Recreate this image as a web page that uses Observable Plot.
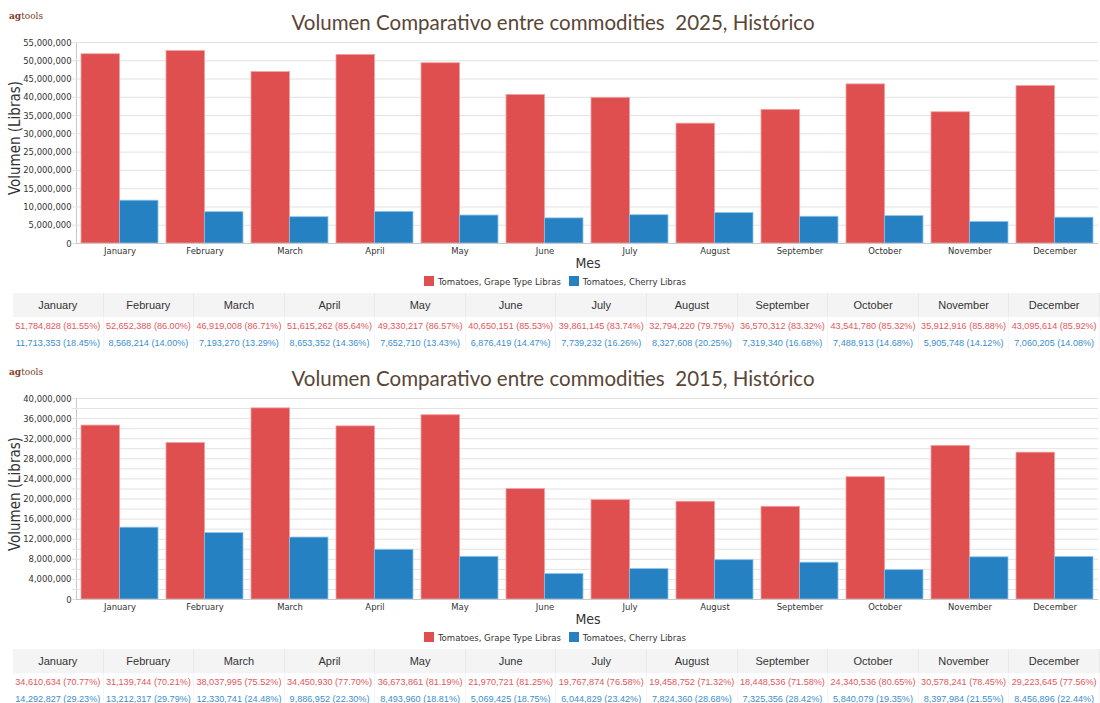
<!DOCTYPE html>
<html>
<head>
<meta charset="utf-8">
<script src="https://cdn.jsdelivr.net/npm/d3@7"></script>
<script src="https://cdn.jsdelivr.net/npm/@observablehq/plot@0.6"></script>
<style>
  html, body { margin: 0; padding: 0; background: #fff; width: 1100px; height: 703px; overflow: hidden; }
  #root { position: relative; width: 1100px; height: 703px; }
  .abs { position: absolute; }
  .logo { font-family: "DejaVu Serif", serif; font-size: 9px; color: #7a3d1f; }
  .logo b { font-weight: bold; }
  .title { left: 0; width: 1106px; text-align: center; font-family: Lato, sans-serif; font-size: 20.5px; color: #5a4636; white-space: pre; line-height: 28px; }
  .ytitle { font-family: "DejaVu Sans Condensed", "DejaVu Sans", sans-serif; font-size: 15px; color: #333; transform: rotate(-90deg); transform-origin: center center; white-space: nowrap; text-align: center; width: 200px; line-height: 16px; }
  .xtitle { font-family: "DejaVu Sans Condensed", "DejaVu Sans", sans-serif; font-size: 14px; color: #333; width: 100px; text-align: center; line-height: 16px; }
  .legend { left: 0; width: 1110px; text-align: center; font-family: "DejaVu Sans Condensed", "DejaVu Sans", sans-serif; font-size: 9.5px; color: #333; line-height: 12px; }
  .legend .sw { display: inline-block; width: 10px; height: 10px; vertical-align: -1px; margin-right: 4px; }
  .legend .item { margin: 0 4px; }
  .chart svg text { fill: #333; }
  table.data { border-collapse: collapse; table-layout: fixed; font-family: "Liberation Sans", Arial, sans-serif; }
  table.data td, table.data th { width: 91px; padding: 0; text-align: center; white-space: nowrap; overflow: visible; }
  table.data th { height: 24px; background: #f4f4f4; font-weight: normal; font-size: 11px; color: #333; border-right: 1px solid #e9e9e9; }
  table.data td { height: 17px; font-size: 9.1px; border-right: 1px solid #f6f6f6; }
  td.g { color: #e4565a; }
  td.c { color: #3a8dcf; }
</style>
</head>
<body>
<div id="root"></div>
<script>
// ---- data ----
const months = ["January","February","March","April","May","June","July","August","September","October","November","December"];
const seriesNames = ["Tomatoes, Grape Type Libras", "Tomatoes, Cherry Libras"];
const seriesColors = ["#df4f4f", "#2681c3"];

const grape2025  = [51784828, 52652388, 46919008, 51615262, 49330217, 40650151, 39861145, 32794220, 36570312, 43541780, 35912916, 43095614];
const cherry2025 = [11713353, 8568214, 7193270, 8653352, 7652710, 6876419, 7739232, 8327608, 7319340, 7488913, 5905748, 7060205];

const grape2015  = [34610634, 31139744, 38037995, 34450930, 36673861, 21970721, 19767874, 19458752, 18448536, 24340536, 30578241, 29223645];
const cherry2015 = [14292827, 13212317, 12330741, 9886952, 8493960, 5069425, 6044829, 7824360, 7325356, 5840079, 8397984, 8456896];

const yTicks2025 = [0, 5000000, 10000000, 15000000, 20000000, 25000000, 30000000, 35000000, 40000000, 45000000, 50000000, 55000000];
const yGrid2025  = yTicks2025;
const yTicks2015 = [0, 4000000, 8000000, 12000000, 16000000, 20000000, 24000000, 28000000, 32000000, 36000000, 40000000];
const yGrid2015  = [0, 2000000, 4000000, 6000000, 8000000, 10000000, 12000000, 14000000, 16000000, 18000000, 20000000, 22000000, 24000000, 26000000, 28000000, 30000000, 32000000, 34000000, 36000000, 38000000, 40000000];

const titles = ["Volumen Comparativo entre commodities  2025, Histórico", "Volumen Comparativo entre commodities  2015, Histórico"];

// ---- layout ----
const W = 1100, mL = 76, mR = 2, mT = 6, mB = 22, plotH = 201;
const padIn = 0.1, padOut = 0.04;
const step = (W - mL - mR) / (months.length - padIn + 2 * padOut);
const bw = step * (1 - padIn);
const fmtN = d3.format(",");
const fmtP = d3.format(".2%");

const root = document.getElementById("root");
function el(tag, cls, css, html) {
  const e = document.createElement(tag);
  if (cls) e.className = cls;
  if (css) Object.assign(e.style, css);
  if (html != null) e.innerHTML = html;
  root.appendChild(e);
  return e;
}

function block(T, title, grape, cherry, yTicks, yGrid, yMax) {
  el("div", "abs logo", {left: "9px", top: (T + 11) + "px"}, "<b>ag</b>tools");
  el("div", "abs title", {top: (T + 8) + "px"}).textContent = title;

  const rows = [];
  months.forEach((m, i) => {
    rows.push({month: m, series: seriesNames[0], value: grape[i]});
    rows.push({month: m, series: seriesNames[1], value: cherry[i]});
  });

  const chart = Plot.plot({
    width: W,
    height: mT + plotH + mB,
    marginLeft: mL, marginRight: mR, marginTop: mT, marginBottom: mB,
    style: {fontFamily: "'DejaVu Sans Condensed','DejaVu Sans',sans-serif", fontSize: "9.4px", color: "#c8c8c8", background: "transparent", overflow: "visible"},
    x: {domain: months, paddingInner: padIn, paddingOuter: padOut, tickSize: 0, tickPadding: 4, label: null},
    y: {domain: [0, yMax], ticks: yTicks, tickFormat: fmtN, tickSize: 0, tickPadding: 5, label: null, line: true},
    color: {domain: seriesNames, range: seriesColors},
    marks: [
      Plot.ruleY(yGrid, {stroke: "#e2e2e2", insetLeft: -4}),
      Plot.barY(rows.filter(d => d.series === seriesNames[0]), {x: "month", y: "value", fill: "series", insetRight: bw / 2, stroke: "#f2a3a3", strokeWidth: 0.8}),
      Plot.barY(rows.filter(d => d.series === seriesNames[1]), {x: "month", y: "value", fill: "series", insetLeft: bw / 2, stroke: "#8fc3ea", strokeWidth: 0.8}),
      Plot.ruleY([0], {stroke: "#c8c8c8"})
    ]
  });
  const wrap = el("div", "abs chart", {left: "0px", top: (T + 36) + "px"});
  wrap.appendChild(chart);

  el("div", "abs ytitle", {left: (15 - 100) + "px", top: (T + 138 - 8) + "px"}, "Volumen (Libras)");
  el("div", "abs xtitle", {left: (588 - 50) + "px", top: (T + 255) + "px"}, "Mes");

  el("div", "abs legend", {top: (T + 276) + "px"},
    seriesNames.map((s, i) => `<span class="item"><span class="sw" style="background:${seriesColors[i]}"></span>${s}</span>`).join(""));

  const tbl = el("table", "abs data", {left: "13px", top: (T + 293) + "px"});
  const head = "<tr>" + months.map(m => `<th>${m}</th>`).join("") + "</tr>";
  const r1 = "<tr>" + months.map((m, i) => `<td class="g">${fmtN(grape[i])} (${fmtP(grape[i] / (grape[i] + cherry[i]))})</td>`).join("") + "</tr>";
  const r2 = "<tr>" + months.map((m, i) => `<td class="c">${fmtN(cherry[i])} (${fmtP(cherry[i] / (grape[i] + cherry[i]))})</td>`).join("") + "</tr>";
  tbl.innerHTML = head + r1 + r2;
}

block(0, titles[0], grape2025, cherry2025, yTicks2025, yGrid2025, 55000000);
block(356, titles[1], grape2015, cherry2015, yTicks2015, yGrid2015, 40000000);
</script>
</body>
</html>
